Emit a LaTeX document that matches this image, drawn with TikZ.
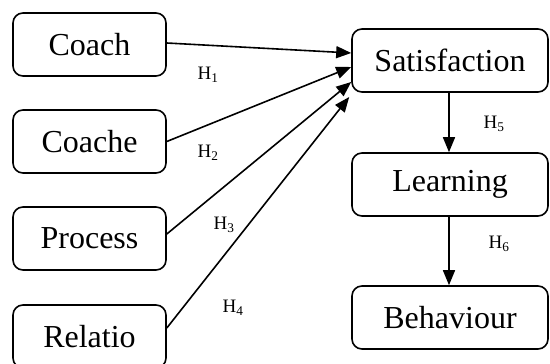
\documentclass[tikz,border=0pt]{standalone}
\usepackage{fontspec}
\setmainfont{Liberation Serif}
\usetikzlibrary{arrows.meta}
\begin{document}
\begin{tikzpicture}[x=1pt,y=-1pt,
  box/.style={draw, line width=1.6pt, rounded corners=10pt, minimum height=63pt,
    inner sep=0pt, font=\fontsize{32}{36}\selectfont},
  leftbox/.style={box, minimum width=153pt},
  rightbox/.style={box, minimum width=196pt},
  link/.style={line width=1.6pt, -{Triangle[length=15pt,width=12pt]}},
  hlabel/.style={font=\fontsize{19}{22}\selectfont, inner sep=0pt}]
\useasboundingbox (0,0) rectangle (550,364);
% predictor boxes
\node[leftbox] (coach)   at (89.5,44.5)  {Coach};
\node[leftbox] (coachee) at (89.5,141.5) {Coache};
\node[leftbox] (process) at (89.5,238.5) {Process};
\node[leftbox] (relatio) at (89.5,336.5) {Relatio};
% outcome chain
\node[rightbox] (sat)   at (450,60.5)  {Satisfaction};
\node[rightbox] (learn) at (450,184.5) {Learning};
\node[rightbox] (behav) at (450,317.5) {Behaviour};
% hypothesised paths
\draw[link] ([yshift=1.5pt]coach.east) -- ([yshift=7.5pt]sat.west);
\draw[link] (coachee.east) -- ([yshift=-6.5pt]sat.west);
\draw[link] ([yshift=4.5pt]process.east) -- ([yshift=-21.5pt]sat.west);
\draw[link] ([yshift=8.5pt]relatio.east) -- ([xshift=-2pt,yshift=-36.5pt]sat.west);
\draw[link] ([xshift=-1pt]sat.south) -- ([xshift=-1pt]learn.north);
\draw[link] ([xshift=-1pt]learn.south) -- ([xshift=-1pt]behav.north);
% path labels
\node[hlabel] (h1) at (208,75)  {H\textsubscript{1}};
\node[hlabel] (h2) at (208,153) {H\textsubscript{2}};
\node[hlabel] (h3) at (224,225) {H\textsubscript{3}};
\node[hlabel] (h4) at (233,308) {H\textsubscript{4}};
\node[hlabel] (h5) at (494,124) {H\textsubscript{5}};
\node[hlabel] (h6) at (499,244) {H\textsubscript{6}};
\end{tikzpicture}
\end{document}
